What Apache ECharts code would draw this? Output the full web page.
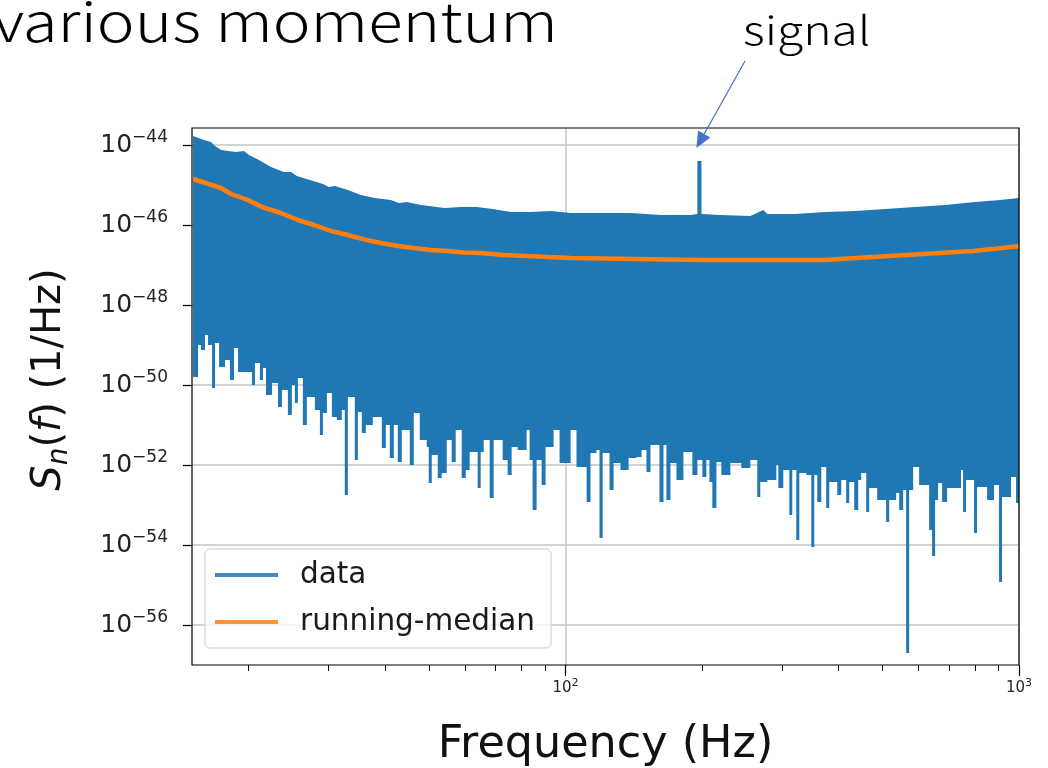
<!DOCTYPE html>
<html><head><meta charset="utf-8">
<script src="https://cdn.jsdelivr.net/npm/echarts@6/dist/echarts.min.js"></script>
<style>html,body{margin:0;padding:0;background:#fff}#c{width:1048px;height:768px}</style>
</head><body><div id="c"></div><script>
// Frequency (Hz) and log10 of Sn(f) (1/Hz)
// upper edge of the "data" trace (includes the narrow signal line near 197 Hz)
const dataUpperEdge = [
 [15.08,-43.775],[15.94,-43.875],[16.52,-43.925],[16.86,-44.025],[17.38,-44.125],[18.75,-44.175],
 [19.53,-44.15],[20.03,-44.25],[21.07,-44.375],[22.40,-44.55],[23.92,-44.675],[24.79,-44.675],
 [25.55,-44.775],[27.29,-44.875],[29.16,-44.975],[30.06,-45.05],[30.99,-45.025],[33.10,-45.125],
 [35.36,-45.25],[37.95,-45.325],[41.17,-45.375],[42.87,-45.45],[44.65,-45.425],[47.94,-45.5],
 [54.14,-45.575],[58.72,-45.55],[63.68,-45.55],[69.06,-45.6],[75.66,-45.675],[83.75,-45.675],
 [92.68,-45.65],[102.6,-45.7],[119.4,-45.7],[139.1,-45.7],[161.9,-45.75],[188.5,-45.75],
 [195.3,-45.725],[195.3,-44.4],[199.4,-44.4],[199.4,-45.725],[219.4,-45.75],[255.5,-45.775],
 [273.0,-45.625],[278.6,-45.725],[321.1,-45.725],[373.8,-45.675],[435.3,-45.65],[506.8,-45.6],
 [590.1,-45.55],[687.1,-45.5],[800,-45.425],[908,-45.375],[1000,-45.325]
];
// lower edge of the "data" trace: each level holds until the next frequency
const dataLowerEdge = [
 [15.08,-49.8],[15.47,-49.0],[15.70,-49.125],[16.02,-48.75],[16.27,-49.0],[16.61,-50.075],
 [16.86,-48.95],[17.21,-49.55],[17.74,-49.375],[18.19,-49.875],[18.57,-49.075],[18.95,-49.675],
 [20.34,-50.0],[20.65,-49.45],[21.18,-49.875],[21.51,-49.575],[21.84,-50.25],[22.52,-49.95],
 [23.21,-50.55],[23.68,-50.125],[24.41,-50.75],[24.91,-50.0],[25.29,-50.45],[25.68,-49.825],
 [26.34,-51.0],[26.88,-50.3],[28.00,-50.625],[28.72,-51.25],[29.16,-50.7],[29.76,-50.2],
 [30.52,-50.8],[31.30,-50.875],[32.10,-50.625],[32.59,-52.75],[33.10,-50.3],[34.29,-51.875],
 [34.82,-50.675],[35.53,-51.2],[36.26,-51.0],[37.57,-50.8],[39.33,-51.575],[40.14,-51.0],
 [40.96,-51.825],[41.80,-51.0],[42.66,-51.925],[43.53,-51.125],[45.33,-52.0],[46.26,-50.7],
 [47.69,-51.375],[49.41,-51.55],[49.91,-52.45],[50.68,-51.75],[52.25,-52.325],[53.32,-52.2],
 [54.69,-51.375],[56.09,-51.925],[57.24,-51.125],[59.01,-52.325],[60.22,-52.125],[61.45,-51.675],
 [64.00,-52.575],[64.98,-51.675],[65.98,-51.375],[68.02,-52.825],[69.41,-51.375],[72.65,-51.875],
 [74.51,-52.25],[76.04,-51.55],[78.39,-51.625],[82.05,-51.125],[83.32,-51.875],[84.59,-53.125],
 [86.32,-51.875],[88.54,-52.5],[90.35,-51.55],[94.10,-51.125],[97.00,-51.95],[102.6,-51.125],
 [105.7,-52.05],[111.3,-52.925],[113.5,-51.7],[117.0,-51.625],[118.8,-53.825],[120.7,-51.7],
 [125.0,-52.625],[127.6,-51.95],[132.2,-52.125],[137.7,-51.825],[143.4,-51.8],[147.1,-51.625],
 [150.8,-52.175],[153.9,-51.5],[161.1,-52.925],[164.4,-51.5],[166.9,-52.875],[170.3,-51.95],
 [175.6,-52.375],[181.9,-51.675],[190.4,-52.25],[195.3,-51.875],[200.3,-52.3],[204.4,-51.875],
 [207.6,-52.425],[210.7,-53.075],[215.1,-51.925],[220.6,-52.25],[230.9,-51.95],[244.1,-52.075],
 [255.5,-51.875],[264.7,-52.8],[268.8,-52.425],[278.6,-52.375],[291.6,-52.0],[294.6,-52.575],
 [302.1,-52.125],[311.5,-53.25],[316.2,-52.125],[322.7,-53.875],[327.7,-52.2],[339.5,-52.25],
 [348.3,-54.05],[353.6,-52.25],[359.0,-52.925],[366.4,-52.05],[375.7,-53.075],[381.5,-52.425],
 [397.3,-52.75],[405.4,-52.375],[415.8,-52.95],[422.3,-52.425],[433.1,-53.125],[442.0,-52.375],
 [448.8,-52.2],[460.3,-53.175],[467.3,-52.575],[486.7,-52.875],[509.3,-53.425],[517.3,-52.875],
 [535.9,-52.7],[544.2,-53.125],[555.3,-52.625],[563.8,-56.7],[572.4,-52.625],[584.2,-52.05],
 [602.2,-52.5],[633.6,-53.625],[643.3,-54.275],[653.1,-52.875],[663.1,-52.45],[676.7,-52.925],
 [694.1,-52.575],[711.8,-52.575],[745.1,-52.125],[752.8,-53.175],[764.3,-52.375],[776.0,-52.375],
 [795.9,-53.7],[808.1,-52.55],[850.4,-52.875],[881.1,-52.5],[903.7,-54.925],[917.6,-52.8],
 [936.4,-52.8],[960.5,-52.3],[984.9,-52.95]
];
// running median
const medianCurve = [
 [15.08,-44.85],[17.38,-45.075],[18.29,-45.225],[19.93,-45.375],[21.4,-45.55],[23.56,-45.7],
 [25.68,-45.875],[27.86,-46.0],[30.37,-46.15],[33.1,-46.25],[35.9,-46.36],[39.13,-46.45],
 [42.66,-46.525],[46.27,-46.575],[50.4,-46.625],[54.97,-46.65],[59.6,-46.69],[65.0,-46.7],
 [73.0,-46.75],[102.6,-46.825],[144.1,-46.85],[201.4,-46.875],[282.8,-46.875],[370,-46.875],
 [476.9,-46.8],[614.5,-46.725],[791.8,-46.65],[1000,-46.53]
];
const xMajorTicks = [100, 1000];
const xMinorTicks = [20,30,40,50,60,70,80,90,200,300,400,500,600,700,800,900];
const yTickExponents = [-56,-54,-52,-50,-48,-46,-44];

const FONT = 'DejaVu Sans';
const BLUE = '#1f77b4', ORANGE = '#ff7f0e';
const expLabel = e => '{b|10}{s|' + (e < 0 ? '\u2212' + (-e) : e) + '}';
const xLabel = v => expLabel(Math.round(Math.log10(v)));

const chart = echarts.init(document.getElementById('c'), null, {renderer:'canvas'});
const gridPos = {left:192, top:128, right:29, bottom:103, outerBoundsMode:'none', containLabel:false};

const option = {
  animation:false,
  backgroundColor:'#fff',
  grid:[
    Object.assign({show:false}, gridPos),
    Object.assign({show:true, borderColor:'#000', borderWidth:1.2, backgroundColor:'transparent', z:10}, gridPos)
  ],
  legend:{
    left:205, top:549, orient:'vertical', z:20,
    padding:[9,16,9,10], itemGap:13, itemWidth:63, itemHeight:4,
    backgroundColor:'rgba(255,255,255,0.8)', borderColor:'#cccccc', borderWidth:1, borderRadius:5,
    textStyle:{fontFamily:FONT, fontSize:29.5, color:'#1a1a1a', lineHeight:34, padding:[0,0,0,17]},
    data:[
      {name:'data', icon:'rect', itemStyle:{color:'#3d8ac6'}},
      {name:'running-median', icon:'rect', itemStyle:{color:'#ff9338'}}
    ]
  },
  xAxis:[
    {type:'log', logBase:10, min:15, max:1000, gridIndex:0,
     axisLine:{show:false},
     axisTick:{show:true, length:11, customValues:xMajorTicks, lineStyle:{color:'#000', width:1.2}},
     axisLabel:{customValues:xMajorTicks, margin:13, formatter:xLabel,
       rich:{b:{fontFamily:FONT, fontSize:15, color:'#222', lineHeight:20},
             s:{fontFamily:FONT, fontSize:11, color:'#222', verticalAlign:'top', lineHeight:12}}},
     splitLine:{show:true, lineStyle:{color:'#c4c4c4', width:1.5}},
     name:'Frequency (Hz)', nameLocation:'middle', nameGap:58,
     nameTextStyle:{fontFamily:FONT, fontSize:44.5, color:'#111'}},
    {type:'log', logBase:10, min:15, max:1000, gridIndex:0, position:'bottom',
     axisLine:{show:false},
     axisTick:{show:true, length:6, customValues:xMinorTicks, lineStyle:{color:'#000', width:1}},
     axisLabel:{show:false}, splitLine:{show:false}}
  ],
  // y axis is drawn in decades (log10 of Sn) and labelled as powers of ten
  yAxis:[
    {type:'value', min:-57, max:-43.575, gridIndex:0,
     axisLine:{show:false},
     axisTick:{show:true, length:9, customValues:yTickExponents, lineStyle:{color:'#000', width:1.2}},
     axisLabel:{customValues:yTickExponents, margin:24, formatter:expLabel,
       rich:{b:{fontFamily:FONT, fontSize:25, color:'#222', lineHeight:32},
             s:{fontFamily:FONT, fontSize:17, color:'#222', verticalAlign:'top', lineHeight:20}}},
     splitLine:{show:true, lineStyle:{color:'#c4c4c4', width:1.5}},
     name:'{i|S}{sub|n}{r|(}{i|f}{r|) (1/Hz)}', nameLocation:'middle', nameGap:118,
     nameTextStyle:{padding:[0,0,0,34], rich:{
       i:{fontFamily:FONT, fontSize:40, fontStyle:'italic', color:'#111', lineHeight:48},
       r:{fontFamily:FONT, fontSize:40, color:'#111', lineHeight:48},
       sub:{fontFamily:FONT, fontSize:28, fontStyle:'italic', color:'#111', verticalAlign:'bottom', lineHeight:20}
     }}}
  ],
  series:[
    {name:'data', type:'custom', xAxisIndex:0, yAxisIndex:0, clip:true, z:2, silent:true,
     itemStyle:{color:BLUE},
     data: dataLowerEdge.map(p => [p[0], p[1]]),
     renderItem: function(params, api){
       if (params.dataIndex !== 0) return null;
       const pts = [];
       dataUpperEdge.forEach(p => pts.push(api.coord([p[0], p[1]])));
       const xEnd = api.coord([1000, -50])[0];
       for (let i = dataLowerEdge.length - 1; i >= 0; i--) {
         const a = api.coord([dataLowerEdge[i][0], dataLowerEdge[i][1]]);
         const bx = i < dataLowerEdge.length - 1 ? api.coord([dataLowerEdge[i+1][0], -50])[0] : xEnd;
         pts.push([bx, a[1]]);
         pts.push([a[0], a[1]]);
       }
       return {type:'polygon', shape:{points:pts}, style:{fill:BLUE}};
     }},
    {name:'running-median', type:'line', xAxisIndex:0, yAxisIndex:0, z:3, silent:true,
     showSymbol:false, symbol:'none', clip:true,
     itemStyle:{color:ORANGE}, lineStyle:{color:ORANGE, width:4.5},
     data: medianCurve.map(p => [p[0], p[1]])}
  ],
  graphic:[
    {id:'title', type:'text', x:-7, y:-6, scaleX:1.18, style:{text:'various momentum', font:'300 54px "Noto Sans CJK JP"', fill:'#000'}},
    {id:'signalText', type:'text', x:743, y:10, scaleX:1.2, style:{text:'signal', font:'300 40px "Noto Sans CJK JP"', fill:'#000'}}
  ]
};
chart.setOption(option);

// arrow pointing at the signal line (the highest point of the trace above 100 Hz)
const peak = dataUpperEdge.filter(p => p[0] > 100).reduce((m, p) => p[1] > m[1] ? p : m);
const peakPx = chart.convertToPixel({xAxisIndex:0, yAxisIndex:0}, [peak[0], peak[1]]);
const tip = [peakPx[0] - 1, peakPx[1] - 13];
const tail = [745, 61];
const dx = tip[0] - tail[0], dy = tip[1] - tail[1], L = Math.hypot(dx, dy);
const ux = dx / L, uy = dy / L, hl = 16, hw = 7;
const base = [tip[0] - ux * hl, tip[1] - uy * hl];
chart.setOption({graphic:[
  {id:'arrowLine', type:'line', shape:{x1:tail[0], y1:tail[1], x2:base[0], y2:base[1]}, style:{stroke:'#4472c4', lineWidth:1.2}, z:30},
  {id:'arrowHead', type:'polygon', shape:{points:[tip, [base[0] - uy * hw, base[1] + ux * hw], [base[0] + uy * hw, base[1] - ux * hw]]}, style:{fill:'#4472c4'}, z:30}
]});
</script></body></html>
